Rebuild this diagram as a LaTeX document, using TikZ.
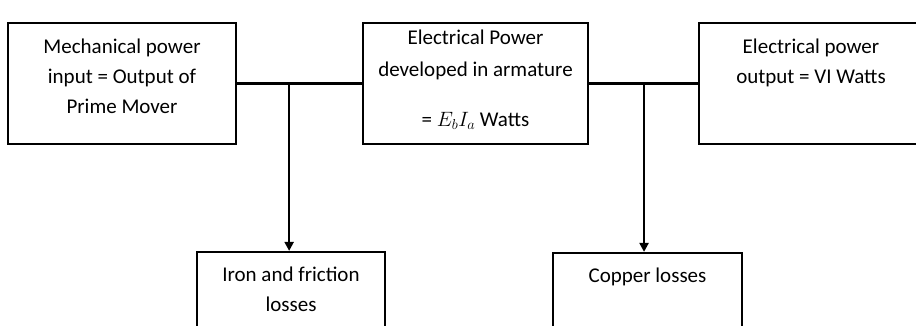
\documentclass[tikz,border=0pt]{standalone}
\usepackage{fontspec}
\setmainfont{Carlito}
\usetikzlibrary{arrows.meta, positioning, calc}

\begin{document}
\begin{tikzpicture}[
  x=1pt, y=-1pt,
  box/.style n args={3}{
    draw, line width=2.2pt, inner sep=0pt,
    execute at begin node={\begin{minipage}[c][#2][t]{#1}\centering
      \fontsize{21}{30}\selectfont\vspace*{#3}},
    execute at end node={\end{minipage}}
  },
  wire/.style={line width=2.2pt},
  arrow/.style={wire, -{Triangle[length=9pt, width=9pt]}}
]
  \useasboundingbox (0,0) rectangle (916,326);

  % Blocchi superiori
  \node[box={228pt}{121pt}{16pt}] (mech) at (122,83.5) {Mechanical power\\ input = Output of\\ Prime Mover};
  \node[box={225pt}{121pt}{7pt}] (arm) at (475.5,83.5) {Electrical Power\\[2pt] developed in armature\\[20pt] = $E_b I_a$ Watts};
  \node[box={224pt}{121pt}{16pt}] (out) at (811,83.5) {Electrical power\\ output = VI Watts};

  % Perdite
  \node[box={188pt}{90pt}{15pt}] (iron) at (291,297) {Iron and friction\\ losses};
  \node[box={189pt}{90pt}{15pt}] (copper) at (647.5,298) {Copper losses};

  % Linee di collegamento
  \draw[wire] (mech.east) -- (arm.west);
  \draw[wire] (arm.east) -- (out.west);
  \coordinate (j1) at ($(mech.east)!0.417!(arm.west)$);
  \coordinate (j2) at ($(arm.east)!0.505!(out.west)$);
  \draw[arrow] (j1) -- (j1 |- iron.north);
  \draw[arrow] (j2) -- (j2 |- copper.north);

\end{tikzpicture}
\end{document}
